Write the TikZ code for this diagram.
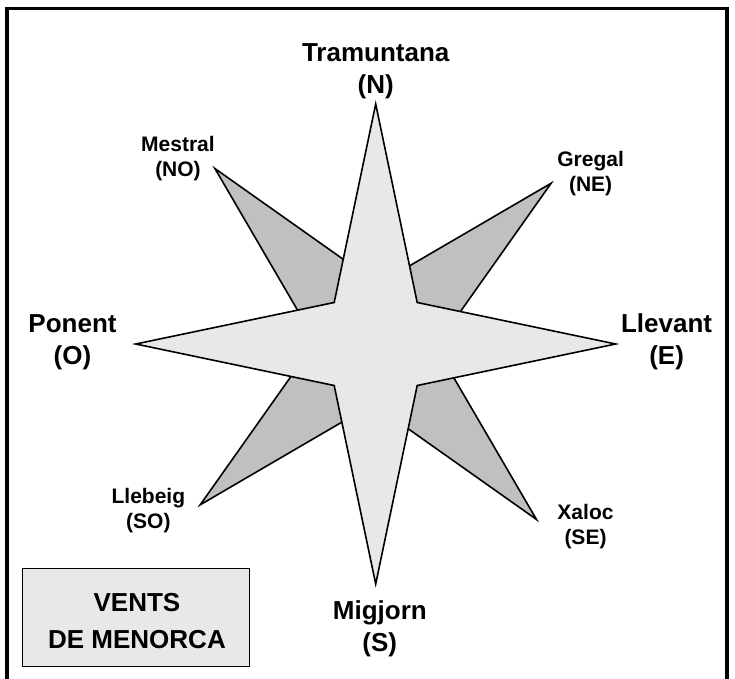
\documentclass[tikz,border=0pt]{standalone}
\usepackage{fontspec}
\setmainfont{Liberation Sans}
\usepackage{tikz}
\definecolor{petalgray}{RGB}{192,192,192}
\definecolor{stargray}{RGB}{232,232,232}

\begin{document}
\begin{tikzpicture}[x=1pt, y=1pt,
	big/.style={align=center, anchor=base, inner sep=0pt, font=\bfseries\fontsize{26}{32}\selectfont},
	small/.style={align=center, anchor=base, inner sep=0pt, font=\bfseries\fontsize{21}{25}\selectfont},
	rose/.style={draw, line width=1.6pt, line join=miter}]
	\useasboundingbox (-375.7,-334) rectangle (359.3,344);
	\draw[line width=3.2pt] (-368.7,-360) -- (-368.7,335.5) -- (351.3,335.5) -- (351.3,-360);
	\draw[rose, fill=petalgray] (42.5:238) -- (87.5:60) -- (132.5:238) -- (177.5:60) -- (222.5:238) -- (267.5:60) -- (312.5:238) -- (357.5:60) -- cycle;
	\draw[rose, fill=stargray] (90:240) -- (135:58.7) -- (180:240) -- (225:58.7) -- (270:240) -- (315:58.7) -- (0:240) -- (45:58.7) -- cycle;
	\node[big] (tramuntana) at (0,250.3) {Tramuntana\\(N)};
	\node[big] (migjorn) at (4.1,-307) {Migjorn\\(S)};
	\node[big] (ponent) at (-303.2,-20) {Ponent\\(O)};
	\node[big] (llevant) at (290.9,-20) {Llevant\\(E)};
	\node[small] (mestral) at (-197.7,168) {Mestral\\(NO)};
	\node[small] (gregal) at (214.9,153) {Gregal\\(NE)};
	\node[small] (llebeig) at (-227.3,-184) {Llebeig\\(SO)};
	\node[small] (xaloc) at (209.8,-200) {Xaloc\\(SE)};
	\node[draw, line width=1.2pt, fill=stargray, minimum width=227pt, minimum height=98.4pt] (ventsbox) at (-239.5,-273.5) {};
	\node[big, font=\bfseries\fontsize{26}{37}\selectfont] (vents) at (-238.7,-304.3) {VENTS\\DE MENORCA};
\end{tikzpicture}
\end{document}
